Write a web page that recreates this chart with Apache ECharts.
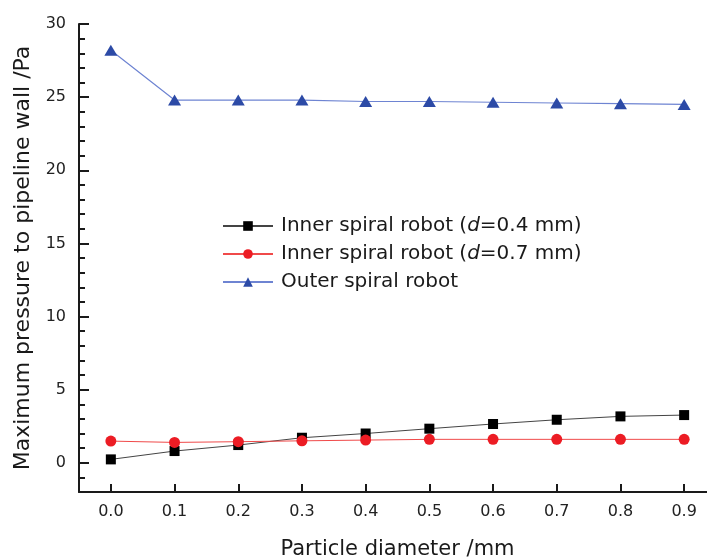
<!DOCTYPE html>
<html>
<head>
<meta charset="utf-8">
<script src="https://cdn.jsdelivr.net/npm/echarts@6/dist/echarts.min.js"></script>
<style>
  html, body { margin: 0; padding: 0; background: #fff; }
  #main { width: 707px; height: 560px; }
</style>
</head>
<body>
<div id="main"></div>
<script>
// particle diameter (mm)
var diameters = [0.0, 0.1, 0.2, 0.3, 0.4, 0.5, 0.6, 0.7, 0.8, 0.9];
// max pressure to pipeline wall (Pa)
var innerD04 = [0.23, 0.8, 1.21, 1.71, 2.0, 2.33, 2.65, 2.94, 3.17, 3.26];
var innerD07 = [1.48, 1.39, 1.44, 1.5, 1.55, 1.6, 1.6, 1.6, 1.6, 1.6];
var outer = [28.2, 24.8, 24.8, 24.8, 24.7, 24.7, 24.65, 24.6, 24.55, 24.5];

var seriesNames = [
  'Inner spiral robot (d=0.4 mm)',
  'Inner spiral robot (d=0.7 mm)',
  'Outer spiral robot'
];
var yMajor = [0, 5, 10, 15, 20, 25, 30];
var yMinor = [-1, 1, 2, 3, 4, 6, 7, 8, 9, 11, 12, 13, 14, 16, 17, 18, 19, 21, 22, 23, 24, 26, 27, 28, 29];

var font = 'DejaVu Sans';

function pairs(ys) {
  return diameters.map(function (x, i) { return [x, ys[i]]; });
}

var chart = echarts.init(document.getElementById('main'), null, { renderer: 'canvas' });

var option = {
  backgroundColor: '#fff',
  animation: false,
  grid: { left: 79, right: -9, top: 24, bottom: 68, outerBoundsMode: 'none' },
  legend: {
    orient: 'vertical',
    left: 222,
    top: 216,
    padding: 0,
    itemWidth: 50,
    itemHeight: 12,
    itemGap: 8,
    data: seriesNames,
    textStyle: {
      fontFamily: font,
      fontSize: 20,
      color: '#1a1a1a',
      padding: [0, 0, 0, 3],
      rich: {
        it: { fontFamily: font, fontSize: 20, fontStyle: 'italic', color: '#1a1a1a' }
      }
    },
    formatter: function (name) {
      return name.replace('(d=', '({it|d}=');
    }
  },
  xAxis: {
    type: 'value',
    min: -0.05,
    max: 0.95,
    name: 'Particle diameter /mm',
    nameLocation: 'middle',
    nameGap: 47,
    nameTextStyle: { fontFamily: font, fontSize: 21, color: '#1a1a1a' },
    axisLine: { onZero: false, lineStyle: { color: '#1a1a1a', width: 2 } },
    axisTick: {
      inside: true, length: 8,
      customValues: diameters,
      lineStyle: { color: '#1a1a1a', width: 2 }
    },
    axisLabel: {
      customValues: diameters,
      margin: 12,
      fontFamily: font, fontSize: 16, color: '#222',
      formatter: function (v) { return v.toFixed(1); }
    },
    splitLine: { show: false }
  },
  yAxis: [
    {
      type: 'value',
      min: -2,
      max: 30,
      name: 'Maximum pressure to pipeline wall /Pa',
      nameLocation: 'middle',
      nameGap: 43,
      nameTextStyle: { fontFamily: font, fontSize: 22, color: '#1a1a1a' },
      axisLine: { show: true, onZero: false, lineStyle: { color: '#1a1a1a', width: 2 } },
      axisTick: {
        show: true, inside: true, length: 10,
        customValues: yMajor,
        lineStyle: { color: '#1a1a1a', width: 2 }
      },
      axisLabel: {
        customValues: yMajor,
        margin: 13,
        fontFamily: font, fontSize: 16, color: '#222'
      },
      splitLine: { show: false }
    },
    {
      // minor ticks only
      type: 'value',
      min: -2,
      max: 30,
      position: 'left',
      axisLine: { show: false, onZero: false },
      axisTick: {
        show: true, inside: true, length: 6,
        customValues: yMinor,
        lineStyle: { color: '#1a1a1a', width: 2 }
      },
      axisLabel: { show: false },
      splitLine: { show: false }
    }
  ],
  series: [
    {
      name: seriesNames[0],
      type: 'line',
      data: pairs(innerD04),
      symbol: 'rect',
      symbolSize: 10,
      itemStyle: { color: '#000' },
      lineStyle: { color: '#444', width: 1 }
    },
    {
      name: seriesNames[1],
      type: 'line',
      data: pairs(innerD07),
      symbol: 'circle',
      symbolSize: 11,
      itemStyle: { color: '#ec1c24' },
      lineStyle: { color: '#f04a4a', width: 1 }
    },
    {
      name: seriesNames[2],
      type: 'line',
      data: pairs(outer),
      symbol: 'triangle',
      symbolSize: [13, 11],
      itemStyle: { color: '#2c4aa6' },
      lineStyle: { color: '#6e84d2', width: 1.2 }
    }
  ]
};

chart.setOption(option);
</script>
</body>
</html>
